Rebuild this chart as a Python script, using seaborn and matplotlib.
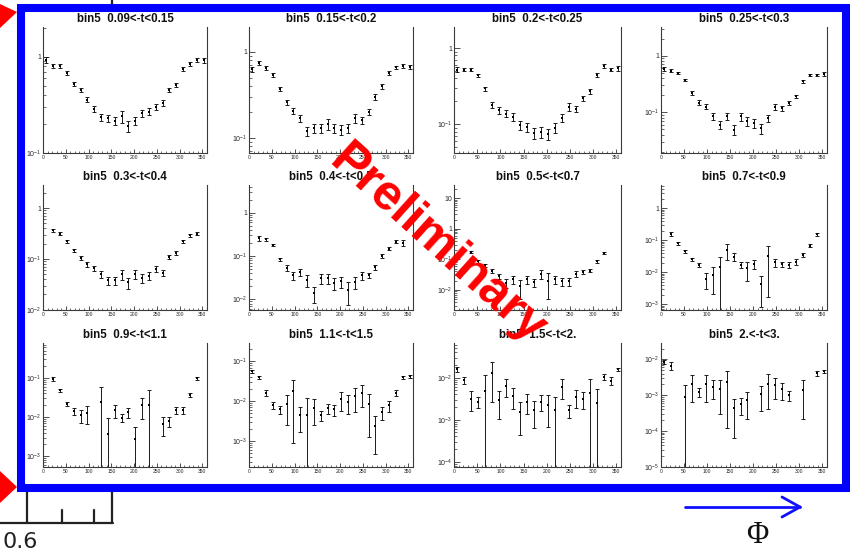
import numpy as np
import pandas as pd
import matplotlib
matplotlib.use("Agg")
import matplotlib.pyplot as plt
import seaborn as sns
from matplotlib.ticker import LogLocator, MultipleLocator, FuncFormatter, NullFormatter
from matplotlib.patches import Rectangle, Polygon
from matplotlib.lines import Line2D

nan = np.nan

# phi bin centres (degrees)
phi = [7.5, 22.5, 37.5, 52.5, 67.5, 82.5, 97.5, 112.5, 127.5, 142.5, 157.5, 172.5,
       187.5, 202.5, 217.5, 232.5, 247.5, 262.5, 277.5, 292.5, 307.5, 322.5, 337.5, 352.5]

titles = ["bin5  0.09<-t<0.15", "bin5  0.15<-t<0.2", "bin5  0.2<-t<0.25", "bin5  0.25<-t<0.3",
          "bin5  0.3<-t<0.4", "bin5  0.4<-t<0.5", "bin5  0.5<-t<0.7", "bin5  0.7<-t<0.9",
          "bin5  0.9<-t<1.1", "bin5  1.1<-t<1.5", "bin5  1.5<-t<2.", "bin5  2.<-t<3."]

# cross section per phi bin and relative statistical error
val_01 = [0.93, 0.81, 0.81, 0.68, 0.52, 0.45, 0.36, 0.29, 0.235, 0.23, 0.215, 0.24,
          0.19, 0.215, 0.26, 0.27, 0.30, 0.33, 0.45, 0.51, 0.75, 0.84, 0.93, 0.93]
err_01 = [0.08, 0.05, 0.05, 0.05, 0.05, 0.05, 0.06, 0.07, 0.09, 0.09, 0.09, 0.14,
          0.12, 0.10, 0.08, 0.08, 0.07, 0.07, 0.05, 0.05, 0.05, 0.05, 0.05, 0.06]

val_02 = [0.63, 0.74, 0.65, 0.54, 0.37, 0.26, 0.206, 0.17, 0.12, 0.13, 0.13, 0.146,
          0.13, 0.124, 0.13, 0.17, 0.16, 0.20, 0.30, 0.40, 0.57, 0.66, 0.69, 0.67]
err_02 = [0.07, 0.05, 0.05, 0.05, 0.06, 0.07, 0.08, 0.09, 0.13, 0.13, 0.12, 0.14,
          0.13, 0.13, 0.13, 0.11, 0.10, 0.08, 0.07, 0.06, 0.05, 0.05, 0.05, 0.06]

val_03 = [0.52, 0.52, 0.52, 0.44, 0.295, 0.18, 0.153, 0.138, 0.125, 0.097, 0.092, 0.077,
          0.079, 0.074, 0.09, 0.122, 0.169, 0.16, 0.218, 0.27, 0.44, 0.58, 0.52, 0.54]
err_03 = [0.07, 0.05, 0.05, 0.05, 0.06, 0.08, 0.10, 0.10, 0.11, 0.13, 0.14, 0.16,
          0.16, 0.17, 0.14, 0.12, 0.11, 0.10, 0.08, 0.07, 0.06, 0.05, 0.05, 0.08]

val_04 = [0.575, 0.54, 0.49, 0.37, 0.22, 0.148, 0.126, 0.084, 0.06, 0.084, 0.049, 0.084,
          0.069, 0.064, 0.052, 0.079, 0.126, 0.118, 0.145, 0.19, 0.35, 0.457, 0.457, 0.475]
err_04 = [0.08, 0.06, 0.05, 0.05, 0.07, 0.09, 0.10, 0.14, 0.17, 0.14, 0.20, 0.16,
          0.18, 0.18, 0.20, 0.15, 0.12, 0.11, 0.09, 0.08, 0.05, 0.05, 0.05, 0.08]

val_05 = [nan, 0.366, 0.316, 0.223, 0.147, 0.106, 0.0785, 0.065, 0.05, 0.038, 0.038, 0.05,
          0.0345, 0.05, 0.043, 0.047, 0.063, 0.054, 0.109, 0.133, 0.223, 0.29, 0.316, nan]
err_05 = [nan, 0.08, 0.06, 0.06, 0.07, 0.08, 0.10, 0.12, 0.15, 0.18, 0.18, 0.22,
          0.25, 0.20, 0.20, 0.18, 0.14, 0.14, 0.10, 0.10, 0.07, 0.06, 0.07, nan]

val_06 = [nan, 0.257, 0.247, 0.18, 0.084, 0.054, 0.036, 0.043, 0.028, 0.0138, 0.0305, 0.0305,
          0.0235, 0.026, 0.0164, 0.025, 0.036, 0.036, 0.055, 0.10, 0.15, 0.214, 0.2, nan]
err_06 = [nan, 0.15, 0.07, 0.07, 0.10, 0.15, 0.20, 0.20, 0.30, 0.40, 0.25, 0.25,
          0.30, 0.30, 0.55, 0.30, 0.20, 0.15, 0.12, 0.10, 0.08, 0.08, 0.15, nan]

val_07 = [nan, nan, 0.176, 0.087, 0.063, 0.041, 0.028, 0.017, 0.022, 0.013, 0.022, 0.018,
          0.0335, 0.020, 0.022, 0.019, 0.019, 0.0335, 0.039, 0.043, 0.087, 0.163, nan, nan]
err_07 = [nan, nan, 0.10, 0.10, 0.12, 0.15, 0.20, 0.30, 0.30, 0.60, 0.30, 0.30,
          0.30, 0.75, 0.30, 0.30, 0.30, 0.20, 0.12, 0.12, 0.10, 0.10, nan, nan]

val_08 = [nan, 0.157, 0.08, 0.046, 0.0255, 0.017, 0.0062, 0.0083, 0.0144, 0.05, 0.031, 0.017,
          0.0133, 0.018, 0.0042, 0.033, 0.0205, 0.018, 0.017, 0.0215, 0.035, 0.068, 0.154, nan]
err_08 = [nan, 0.15, 0.10, 0.10, 0.12, 0.15, 0.50, 0.75, 1.05, 0.50, 0.25, 0.20,
          0.60, 0.30, 0.80, 0.95, 0.30, 0.20, 0.20, 0.20, 0.15, 0.12, 0.12, nan]

val_09 = [nan, 0.095, 0.048, 0.022, 0.014, 0.011, 0.0127, nan, 0.024, 0.0037, 0.0148, 0.0097,
          0.0134, 0.0028, 0.02, 0.02, nan, 0.0067, 0.0079, 0.0148, 0.0148, 0.0375, 0.097, nan]
err_09 = [nan, 0.10, 0.10, 0.12, 0.20, 0.35, 0.48, nan, 1.40, 1.60, 0.35, 0.25,
          0.30, 1.00, 0.55, 1.40, nan, 0.50, 0.30, 0.20, 0.20, 0.12, 0.10, nan]

val_10 = [0.056, 0.04, 0.0162, 0.0078, 0.0062, 0.0083, 0.0178, 0.0044, 0.0044, 0.0068, 0.0044, 0.0066,
          0.0062, 0.011, 0.0097, 0.0133, 0.016, 0.0083, 0.0023, 0.0052, 0.0078, 0.0162, 0.04, 0.042]
err_10 = [0.10, 0.08, 0.15, 0.20, 0.25, 0.70, 0.95, 0.62, 1.80, 0.63, 0.30, 0.30,
          0.30, 0.50, 0.50, 0.60, 0.55, 0.85, 0.80, 0.35, 0.30, 0.15, 0.08, 0.08]

val_11 = [0.0158, 0.0088, 0.0032, 0.0027, 0.0049, 0.0132, 0.0029, 0.0063, 0.0037, 0.00155, 0.0027, 0.0017,
          0.0027, 0.0023, 0.0017, 0.0061, 0.0017, 0.0035, 0.0032, 0.0043, 0.0025, 0.0106, 0.0085, 0.0158]
err_11 = [0.15, 0.20, 0.50, 0.30, 1.40, 0.80, 0.65, 0.45, 0.50, 0.72, 0.50, 0.63,
          0.40, 0.70, 1.05, 0.50, 0.35, 0.45, 0.45, 1.15, 1.10, 0.15, 0.20, 0.08]

val_12 = [0.0085, 0.0066, nan, 0.00086, 0.0021, 0.00125, 0.0021, 0.0017, 0.0015, 0.0024, 0.00043, 0.00055,
          0.00073, nan, 0.0011, 0.0021, 0.0019, 0.0015, 0.001, nan, 0.0014, nan, 0.0041, 0.0046]
err_12 = [0.15, 0.25, nan, 1.20, 0.70, 0.30, 0.70, 0.55, 0.80, 0.95, 0.85, 0.50,
          0.70, nan, 0.68, 0.80, 0.60, 0.50, 0.30, nan, 0.85, nan, 0.15, 0.12]

values = [val_01, val_02, val_03, val_04, val_05, val_06,
          val_07, val_08, val_09, val_10, val_11, val_12]
errors = [err_01, err_02, err_03, err_04, err_05, err_06,
          err_07, err_08, err_09, err_10, err_11, err_12]

# vertical axis ranges of each pad
y_ranges = [(0.1, 2.05), (0.067, 1.95), (0.042, 1.89), (0.019, 3.2),
            (0.0099, 2.85), (0.0057, 4.4), (0.0022, 27.0), (0.00066, 5.4),
            (0.00053, 0.78), (0.00022, 0.29), (7.5e-5, 0.067), (0.99e-5, 0.0285)]

# ---------------------------------------------------------------- layout
W, H = 850, 553
sns.set_style("ticks")
plt.rcParams["font.family"] = ["Liberation Sans", "DejaVu Sans"]
plt.rcParams["mathtext.default"] = "regular"

fig = plt.figure(figsize=(W / 100, H / 100), dpi=100)
fig.patch.set_facecolor("white")

col_left = [43, 249, 454, 661]
col_right = [207, 413, 621, 827]
row_top = [27, 185, 343]
row_bottom = [153, 310, 467]


def fx(x):
    return x / W


def fy(y):
    return 1 - y / H


def log_label(v, pos):
    e = int(round(np.log10(v)))
    if e == 0:
        return "1"
    if e == 1:
        return "10"
    return r"$10^{%d}$" % e


for k in range(12):
    r, c = divmod(k, 4)
    l, rt, t, b = col_left[c], col_right[c], row_top[r], row_bottom[r]
    ax = fig.add_axes([fx(l), fy(b), (rt - l) / W, (b - t) / H])
    ax.set_facecolor("white")
    ylo, yhi = y_ranges[k]

    df = pd.DataFrame({"phi": phi, "val": values[k], "rel": errors[k]}).dropna()
    lower = np.maximum(df["val"] * (1 - df["rel"]), ylo * 0.05)
    upper = df["val"] * (1 + df["rel"])

    ax.set_yscale("log")
    ax.errorbar(df["phi"], df["val"], yerr=[df["val"] - lower, upper - df["val"]],
                fmt="none", ecolor="#1a1a1a", elinewidth=0.7, capsize=1.3, capthick=0.7)
    sns.scatterplot(data=df, x="phi", y="val", ax=ax, marker="s", s=4,
                    color="black", linewidth=0, legend=False, zorder=3)

    ax.set_xlim(0, 360)
    ax.set_ylim(ylo, yhi)
    ax.set_xlabel("")
    ax.set_ylabel("")

    ax.xaxis.set_major_locator(MultipleLocator(50))
    ax.xaxis.set_minor_locator(MultipleLocator(10))
    ax.xaxis.set_major_formatter(FuncFormatter(lambda v, p: "%d" % v))
    ax.yaxis.set_major_locator(LogLocator(base=10, numticks=15))
    ax.yaxis.set_minor_locator(LogLocator(base=10, subs=np.arange(2, 10), numticks=15))
    ax.yaxis.set_major_formatter(FuncFormatter(log_label))
    ax.yaxis.set_minor_formatter(NullFormatter())

    ax.tick_params(axis="x", which="major", direction="in", length=3, width=0.6,
                   labelsize=3.6, pad=1.5, color="#333333")
    ax.tick_params(axis="x", which="minor", direction="in", length=1.5, width=0.5, color="#333333")
    ax.tick_params(axis="y", which="major", direction="in", length=4, width=0.6,
                   labelsize=5, pad=1, color="#333333")
    ax.tick_params(axis="y", which="minor", direction="in", length=2, width=0.5, color="#333333")
    ax.tick_params(top=False, right=False, which="both")

    ax.spines["top"].set_visible(False)
    for s in ("left", "right", "bottom"):
        ax.spines[s].set_color("#3a3a3a")
        ax.spines[s].set_linewidth(0.8)

    fig.text(fx((l + rt) / 2), fy(t - 8), titles[k], ha="center", va="center",
             fontsize=8.3, fontweight="bold", color="#111111")

# ---------------------------------------------------------------- slide decorations
frame = Rectangle((fx(20.5), fy(487.5)), (846 - 20.5) / W, (487.5 - 8) / H,
                  transform=fig.transFigure, fill=False, edgecolor="#0000ff",
                  linewidth=5.8, joinstyle="miter", zorder=5)
fig.add_artist(frame)

for tri in ([(0, 4), (17, 12), (0, 28)], [(0, 471), (17, 487), (0, 503)]):
    fig.add_artist(Polygon([(fx(x), fy(y)) for x, y in tri], closed=True,
                           transform=fig.transFigure, facecolor="#ff0000",
                           edgecolor="none", zorder=6))

# axis fragment below the frame
black_lines = [([0, 113], [523, 523]), ([27, 27], [492, 523]), ([62, 62], [510, 523]),
               ([94, 94], [510, 523]), ([112, 112], [492, 523]), ([112, 112], [0, 4])]
for xs, ys in black_lines:
    fig.add_artist(Line2D([fx(v) for v in xs], [fy(v) for v in ys],
                          transform=fig.transFigure, color="#222222", linewidth=1.6))
fig.text(fx(3), fy(548), "0.6", ha="left", va="baseline", fontsize=16,
         color="#222222", family=["DejaVu Sans"])

# phi direction arrow
for xs, ys in (([685, 800], [507, 507]), ([782, 800], [497, 507]), ([782, 800], [517, 507])):
    fig.add_artist(Line2D([fx(v) for v in xs], [fy(v) for v in ys],
                          transform=fig.transFigure, color="#1010ff", linewidth=2.0,
                          solid_capstyle="round"))
fig.text(fx(757), fy(521), "Φ", ha="center", va="top", fontsize=22,
         color="#111111", family=["Liberation Serif", "DejaVu Serif"])

fig.text(fx(437), fy(245), "Preliminary", rotation=-42, rotation_mode="anchor",
         ha="center", va="center", fontsize=36, fontweight="bold", color="#ff0000",
         zorder=10)

fig.savefig("out.png", dpi=100, facecolor="white")
